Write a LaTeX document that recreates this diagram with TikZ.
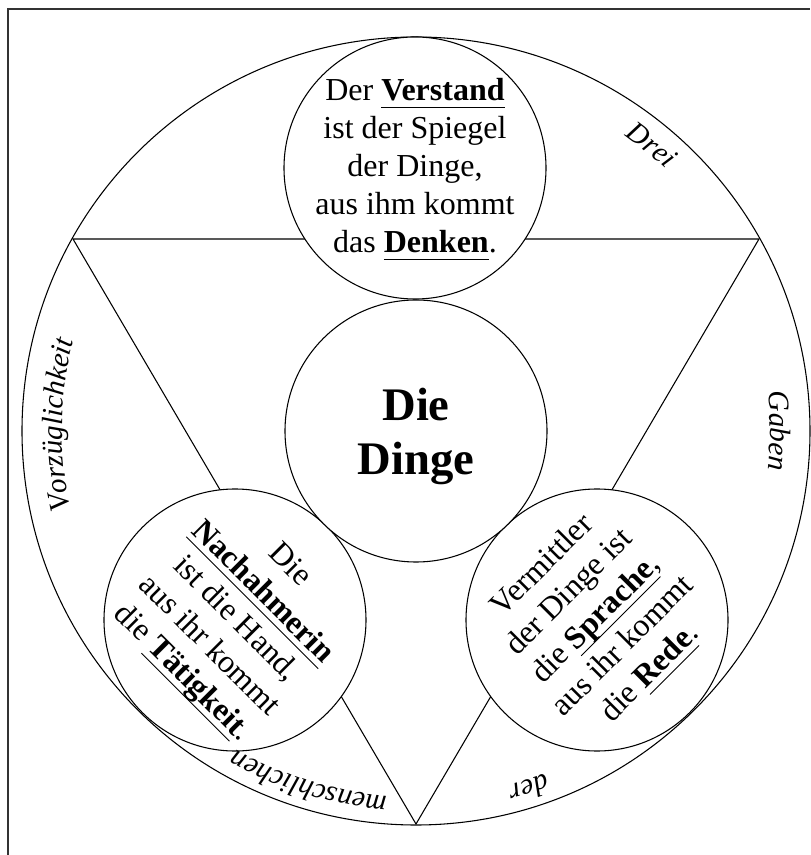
\documentclass[tikz,border=0pt]{standalone}
\usepackage{fontspec}
\setmainfont{Liberation Serif}
\usetikzlibrary{decorations.text}
\newcommand\myul[1]{\leavevmode\setbox0\hbox{#1}\rlap{\rule[-0.22em]{\wd0}{0.7pt}}\box0}
\newcommand\arcword[3]{%
  \path[decorate, decoration={text along path, text align=center,
    text={|\itshape\fontsize{22}{26}\selectfont|#3}}]
    (#1+30:#2) arc[start angle=#1+30, end angle=#1-30, radius=#2];}
\begin{document}
\begin{tikzpicture}[x=0.75pt, y=0.75pt, line width=0.8pt,
  ring/.style={circle, draw, fill=white, minimum size=196.5pt, inner sep=0pt},
  ctext/.style={align=center, inner sep=0pt, font=\fontsize{24}{28.5}\selectfont},
  frame/.style={line width=1.1pt, black!80}]
\useasboundingbox (-416,-424) rectangle (394,431);
% frame (only top and left edges visible)
\coordinate (f1) at (-408,-424);
\coordinate (f2) at (-408,422);
\coordinate (f3) at (394,422);
\draw[frame] (f1) -- (f2) -- (f3);
% big circle
\node[circle, draw, minimum size=591pt, inner sep=0pt] (outer) at (0,0) {};
% triangle
\coordinate (A) at (-343,192);
\coordinate (B) at (343,192);
\coordinate (C) at (0,-393);
\draw (A) -- (B) -- (C) -- cycle;
% circles
\node[ring] (top) at (-1,263) {};
\node[ring] (left) at (-181,-189) {};
\node[ring] (right) at (181,-189) {};
\node[ring] (mid) at (0,0) {};
% texts
\node[ctext] (ttop) at ([yshift=-1pt]top.center) {Der \myul{\textbf{Verstand}}\\ist der Spiegel\\der Dinge,\\aus ihm kommt\\das \myul{\textbf{Denken}}.};
\node[ctext, rotate=-45] (tleft) at (left.center) {Die\\\myul{\textbf{Nachahmerin}}\\ist die Hand,\\aus ihr kommt\\die \myul{\textbf{Tätigkeit}}.};
\node[ctext, rotate=45] (tright) at (right.center) {Vermittler\\der Dinge ist\\die \myul{\textbf{Sprache}},\\aus ihr kommt\\die \myul{\textbf{Rede}}.};
\node[align=center, inner sep=0pt, font=\bfseries\fontsize{35}{41}\selectfont] (tmid) at ([yshift=-4pt]mid.center) {Die\\Dinge};
% curved words
\arcword{50.5}{362}{Drei}
\arcword{0}{354}{Gaben}
\arcword{-72.4}{366}{der}
\arcword{-107}{366}{menschlichen}
\arcword{179}{354}{Vorzüglichkeit}
\end{tikzpicture}
\end{document}
